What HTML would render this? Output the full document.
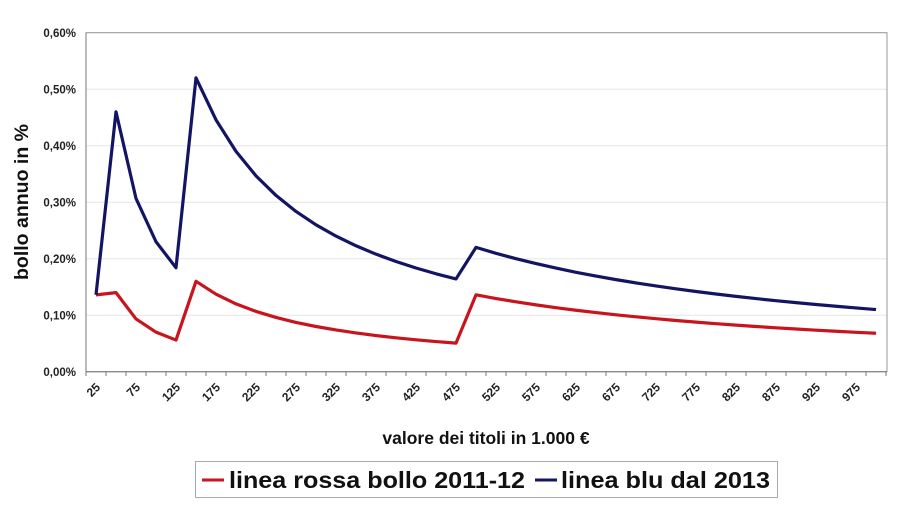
<!DOCTYPE html>
<html><head><meta charset="utf-8"><style>
html,body{margin:0;padding:0;background:#fff;}
svg{display:block;font-family:"Liberation Sans",sans-serif;}
</style></head><body>
<svg id="s" width="900" height="525" viewBox="0 0 900 525" xmlns="http://www.w3.org/2000/svg">
<g stroke="#e6e6e6" stroke-width="1">
<line x1="86" y1="32.7" x2="887" y2="32.7"/>
<line x1="86" y1="89.2" x2="887" y2="89.2"/>
<line x1="86" y1="145.7" x2="887" y2="145.7"/>
<line x1="86" y1="202.2" x2="887" y2="202.2"/>
<line x1="86" y1="258.7" x2="887" y2="258.7"/>
<line x1="86" y1="315.2" x2="887" y2="315.2"/>
</g>
<rect x="86" y="32.7" width="801" height="339" fill="none" stroke="#999" stroke-width="1"/>
<line x1="86" y1="32.7" x2="86" y2="372" stroke="#777" stroke-width="1"/>
<line x1="86" y1="371.7" x2="887" y2="371.7" stroke="#777" stroke-width="1"/>
<g id="ticks" stroke="#777" stroke-width="1"></g>
<g font-size="11.5" font-weight="bold" fill="#222" text-anchor="end">
<text x="76" y="37">0,60%</text>
<text x="76" y="93.5">0,50%</text>
<text x="76" y="150">0,40%</text>
<text x="76" y="206.5">0,30%</text>
<text x="76" y="263">0,20%</text>
<text x="76" y="319.5">0,10%</text>
<text x="76" y="376">0,00%</text>
</g>
<g id="xl" font-size="12" font-weight="bold" fill="#222" text-anchor="end"></g>
<polyline id="red" fill="none" stroke="#c8141c" stroke-width="3.2" stroke-linejoin="round"/>
<polyline id="blue" fill="none" stroke="#141464" stroke-width="3.2" stroke-linejoin="round"/>
<text transform="translate(28,202) rotate(-90)" font-size="19.5" font-weight="bold" fill="#111" text-anchor="middle">bollo annuo in %</text>
<text x="486" y="444" font-size="17.5" font-weight="bold" fill="#111" text-anchor="middle">valore dei titoli in 1.000 €</text>
<rect x="195.5" y="461.5" width="582" height="36" fill="#fff" stroke="#aaa" stroke-width="1"/>
<line x1="202" y1="480" x2="224" y2="480" stroke="#c8141c" stroke-width="3"/>
<text x="229" y="488" font-size="23" font-weight="bold" fill="#111" textLength="296" lengthAdjust="spacingAndGlyphs">linea rossa bollo 2011-12</text>
<line x1="535" y1="480" x2="557" y2="480" stroke="#141464" stroke-width="3"/>
<text x="561" y="488" font-size="23" font-weight="bold" fill="#111" textLength="209" lengthAdjust="spacingAndGlyphs">linea blu dal 2013</text>
</svg>
<script>
var NS="http://www.w3.org/2000/svg";
function X(v){return 96+(v-25)/25*20;}
function Y(p){return 371.7-p*565;}
var t=document.getElementById("ticks");
for(var i=0;i<=40;i++){var l=document.createElementNS(NS,"line");var x=86+i*20;l.setAttribute("x1",x);l.setAttribute("x2",x);l.setAttribute("y1",371.7);l.setAttribute("y2",376);t.appendChild(l);}
var xl=document.getElementById("xl");
for(var v=25;v<=975;v+=50){var tx=document.createElementNS(NS,"text");var x=X(v)+5,y=388;tx.setAttribute("transform","translate("+x+","+y+") rotate(-45)");tx.textContent=v;xl.appendChild(tx);}
var r=[],b=[];
for(var v=25;v<=1000;v+=25){
 var rp,bp;
 if(v==25){rp=0.136;bp=0.136;}
 else if(v<150){rp=0.14*50/v;bp=0.46*50/v;}
 else if(v<500){rp=0.16*150/v;bp=0.52*150/v;}
 else {rp=0.136*500/v;bp=0.22*500/v;}
 r.push(X(v)+","+Y(rp));b.push(X(v)+","+Y(bp));
}
document.getElementById("red").setAttribute("points",r.join(" "));
document.getElementById("blue").setAttribute("points",b.join(" "));
</script>
</body></html>
